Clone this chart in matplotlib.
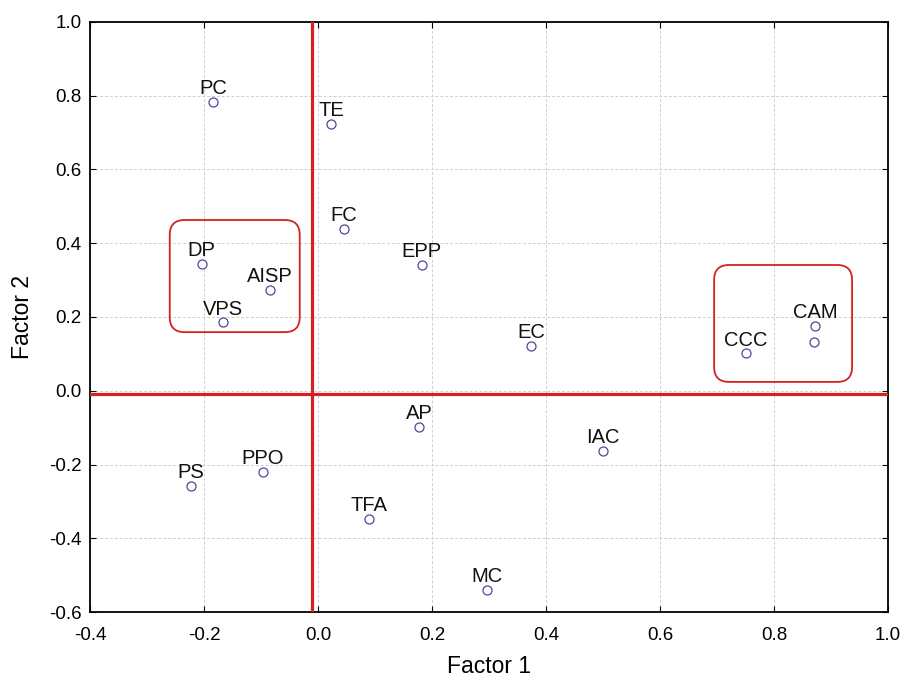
import matplotlib
matplotlib.use("Agg")
import matplotlib.pyplot as plt
from matplotlib.patches import FancyBboxPatch
from matplotlib.ticker import FormatStrFormatter, MultipleLocator

plt.rcParams["font.family"] = ["Liberation Sans", "DejaVu Sans"]
plt.rcParams["axes.unicode_minus"] = False

# Factor loadings
labels = ["PC", "TE", "FC", "EPP", "DP", "AISP", "VPS", "EC", "CCC", "CAM", "",
          "AP", "IAC", "PS", "PPO", "TFA", "MC"]
factor1 = [-0.184, 0.023, 0.046, 0.182, -0.204, -0.084, -0.167, 0.374, 0.751, 0.872, 0.870,
           0.177, 0.500, -0.223, -0.097, 0.089, 0.296]
factor2 = [0.783, 0.723, 0.439, 0.341, 0.344, 0.273, 0.186, 0.121, 0.102, 0.176, 0.132,
           -0.098, -0.163, -0.258, -0.220, -0.348, -0.540]

# highlighted groups: (x0, y0, x1, y1)
groups = [(-0.260, 0.159, -0.032, 0.463), (0.695, 0.024, 0.937, 0.341)]
origin_x = -0.01
origin_y = -0.01

red = "#d42222"

fig = plt.figure(figsize=(9.05, 6.78), dpi=100)
ax = fig.add_axes([0.0994, 0.0973, 0.8818, 0.8703])

ax.set_xlim(-0.4, 1.0)
ax.set_ylim(-0.6, 1.0)
ax.xaxis.set_major_locator(MultipleLocator(0.2))
ax.yaxis.set_major_locator(MultipleLocator(0.2))
ax.xaxis.set_major_formatter(FormatStrFormatter("%.1f"))
ax.yaxis.set_major_formatter(FormatStrFormatter("%.1f"))
ax.tick_params(direction="in", top=True, right=True, length=4, labelsize=13.5)
ax.tick_params(axis="x", pad=11)
ax.tick_params(axis="y", pad=6)
ax.grid(True, color="#cfcfcf", linestyle=(0, (3, 2)), linewidth=0.7)
ax.set_axisbelow(True)
for sp in ax.spines.values():
    sp.set_linewidth(1.3)

# axes through the origin
ax.axvline(origin_x, color=red, linewidth=2.3, zorder=3)
ax.axhline(origin_y, color=red, linewidth=2.3, zorder=3)

# points and labels
ax.plot(factor1, factor2, linestyle="none", marker="o", markersize=6.5,
        markerfacecolor="white", markeredgecolor="#4a4a9a", markeredgewidth=0.9, zorder=4)
for x, y, lab in zip(factor1, factor2, labels):
    if lab:
        ax.annotate(lab, xy=(x, y), xytext=(0, 5.5), textcoords="offset points",
                    ha="center", va="baseline", fontsize=14.5, color="#111111")

# rounded boxes around groups
aspect = (1.6 / 590) / (1.4 / 798)
for x0, y0, x1, y1 in groups:
    box = FancyBboxPatch((x0, y0), x1 - x0, y1 - y0,
                         boxstyle="round,pad=0,rounding_size=0.026",
                         mutation_aspect=aspect, facecolor="none",
                         edgecolor=red, linewidth=1.3, zorder=5)
    ax.add_patch(box)

ax.set_xlabel("Factor 1", fontsize=16.5, labelpad=8)
ax.set_ylabel("Factor 2", fontsize=16.5, labelpad=11)

fig.savefig("out.png", dpi=100)
